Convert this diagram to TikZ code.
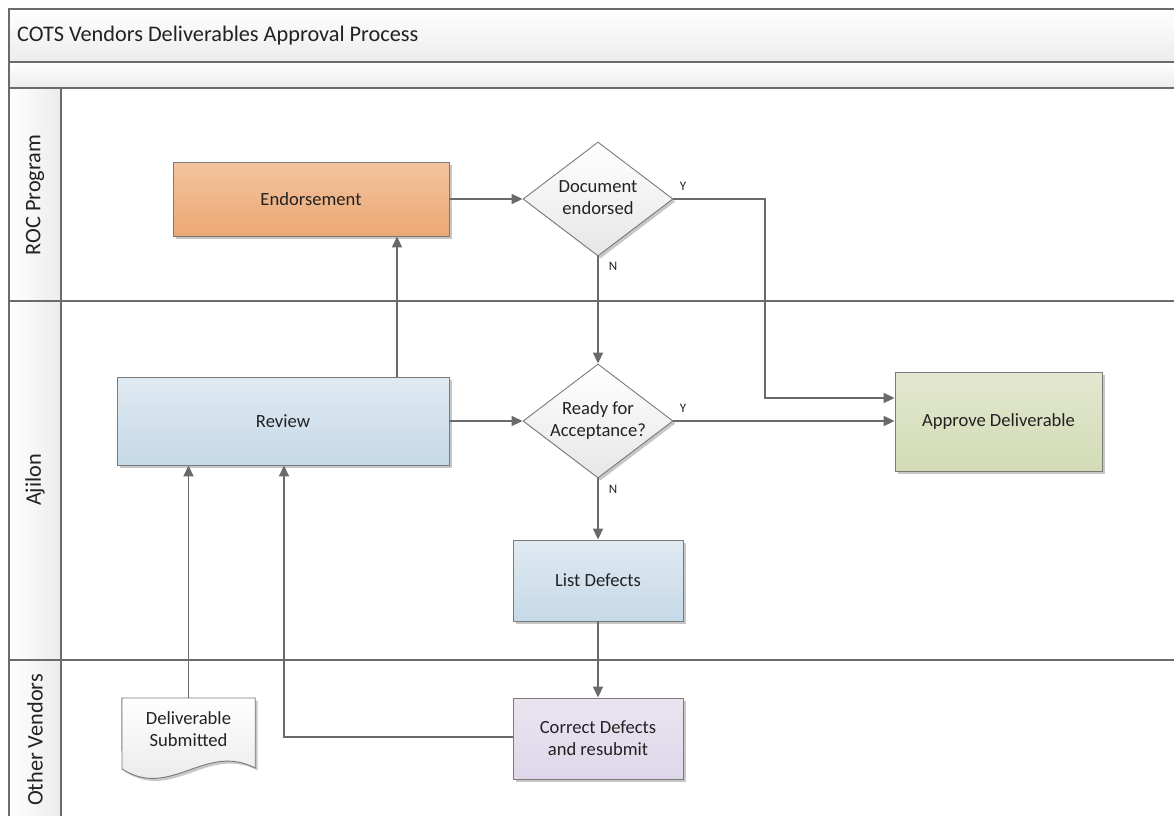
\documentclass[tikz,border=0pt]{standalone}
\usepackage{fontspec}
\setmainfont{Carlito}
\usetikzlibrary{arrows.meta,shapes.geometric,shadows,calc}
\definecolor{lanegray}{HTML}{6B6B6B}
\definecolor{linegray}{HTML}{6A6A6A}
\definecolor{boxedge}{HTML}{7A7A7A}
\definecolor{txt}{HTML}{222222}
\definecolor{orange1}{HTML}{F3C39E}
\definecolor{orange2}{HTML}{EBA874}
\definecolor{blue1}{HTML}{E0EAF2}
\definecolor{blue2}{HTML}{C6D9E7}
\definecolor{green1}{HTML}{E3E8D0}
\definecolor{green2}{HTML}{D2DBB5}
\definecolor{purple1}{HTML}{EAE4F0}
\definecolor{purple2}{HTML}{DFD7E9}
\definecolor{gray1}{HTML}{E6E6E6}
\definecolor{band}{HTML}{ECECEC}
\tikzset{
  shad/.style={drop shadow={shadow xshift=2.5pt,shadow yshift=-2.5pt,opacity=0.22,fill=black}},
  procbox/.style={rectangle,draw=boxedge,line width=0.9pt,align=center,inner sep=0pt,
    font=\fontsize{18.6}{22.3}\selectfont,text=txt,shad},
  orangebox/.style={procbox,top color=orange1,bottom color=orange2},
  bluebox/.style={procbox,top color=blue1,bottom color=blue2},
  greenbox/.style={procbox,top color=green1,bottom color=green2},
  purplebox/.style={procbox,top color=purple1,bottom color=purple2},
  decision/.style={diamond,draw=boxedge,line width=0.9pt,inner sep=0pt,aspect=1.316,
    minimum width=150pt,minimum height=114pt,top color=white,bottom color=gray1,
    font=\fontsize{18.6}{22.3}\selectfont,text=txt,shad},
  arr/.style={draw=linegray,line width=1.8pt,-{Triangle[length=11pt,width=10pt]}},
  yn/.style={font=\fontsize{13}{15}\selectfont,text=txt,inner sep=0pt},
  lanelabel/.style={rotate=90,font=\fontsize{22.3}{26}\selectfont,text=txt,inner sep=0pt},
  laneline/.style={draw=lanegray,line width=1.8pt},
}
\begin{document}
\begin{tikzpicture}[x=1pt,y=-1pt]
\useasboundingbox (0,0) rectangle (1174,815);
\clip (0,0) rectangle (1174,815);
% bands
\path[top color=white,bottom color=band] (9,9) rectangle (1190,62);
\path[top color=white,bottom color=band] (9,62) rectangle (1190,88);
\path[left color=white,right color=band] (9,88) rectangle (61,830);
\draw[laneline] (1190,9) -- (9,9) -- (9,830);
\draw[laneline] (9,62) -- (1190,62);
\draw[laneline] (9,88) -- (1190,88);
\draw[laneline] (61,88) -- (61,830);
\draw[laneline] (9,301) -- (1190,301);
\draw[laneline] (9,660) -- (1190,660);
\node[anchor=west,inner sep=0pt,font=\fontsize{22.3}{26}\selectfont,text=txt] (title) at (17,36) {COTS Vendors Deliverables Approval Process};
\node[lanelabel] (lroc) at (35,195) {ROC Program};
\node[lanelabel] (laj) at (35,480) {Ajilon};
\node[lanelabel] (lov) at (35,740) {Other Vendors};
% nodes
\node[orangebox,minimum width=276pt,minimum height=74pt] (endorse) at (311,199) {Endorsement};
\node[decision] (d1) at (598,199) {\makebox[0pt]{\begin{tabular}{@{}c@{}}Document\\endorsed\end{tabular}}};
\node[bluebox,minimum width=332pt,minimum height=88pt] (review) at (283,421) {Review};
\node[decision] (d2) at (598,421) {\makebox[0pt]{\begin{tabular}{@{}c@{}}Ready for\\Acceptance?\end{tabular}}};
\node[greenbox,minimum width=207pt,minimum height=99pt] (approve) at (998.5,421.5) {Approve Deliverable};
\node[bluebox,minimum width=170pt,minimum height=81pt] (list) at (598,580.5) {List Defects};
\node[purplebox,minimum width=170pt,minimum height=81pt] (correct) at (598,738.5) {Correct Defects\\and resubmit};
% document shape
\node[anchor=north,minimum width=133pt,minimum height=62pt,inner sep=0pt] (doc) at (188.5,698) {};
\path[draw=boxedge,line width=0.9pt,top color=white,bottom color=gray1,shad]
  (doc.north west) -- (doc.north east) -- ++(0,70)
  .. controls (205.5,742) and (170.5,800) .. (122,769) -- cycle;
\node[align=center,inner sep=0pt,font=\fontsize{18.6}{22.3}\selectfont,text=txt] (doctext) at (188.5,729) {Deliverable\\Submitted};
% connectors
\coordinate (yturn) at (765,398);
\draw[arr] (endorse.east) -- (d1.west);
\draw[arr] (d1.east) -| (yturn) -- (approve.west |- yturn);
\draw[arr] (d1.south) -- (d2.north);
\draw[arr] ([xshift=114pt]review.north) -- ([xshift=114pt]review.north |- endorse.south);
\draw[arr] (review.east) -- (d2.west);
\draw[arr] (d2.east) -- (approve.west |- d2.east);
\draw[arr] (d2.south) -- (list.north);
\draw[arr] (list.south) -- (correct.north);
\draw[arr] (doc.north) -- (review.south -| doc.north);
\draw[arr] ([yshift=1.5pt]correct.west) -| ([xshift=1pt]review.south);
% labels
\node[yn] (y1) at (683,186) {Y};
\node[yn] (n1) at (613,266) {N};
\node[yn] (y2) at (683,408) {Y};
\node[yn] (n2) at (613,489) {N};
\end{tikzpicture}
\end{document}
